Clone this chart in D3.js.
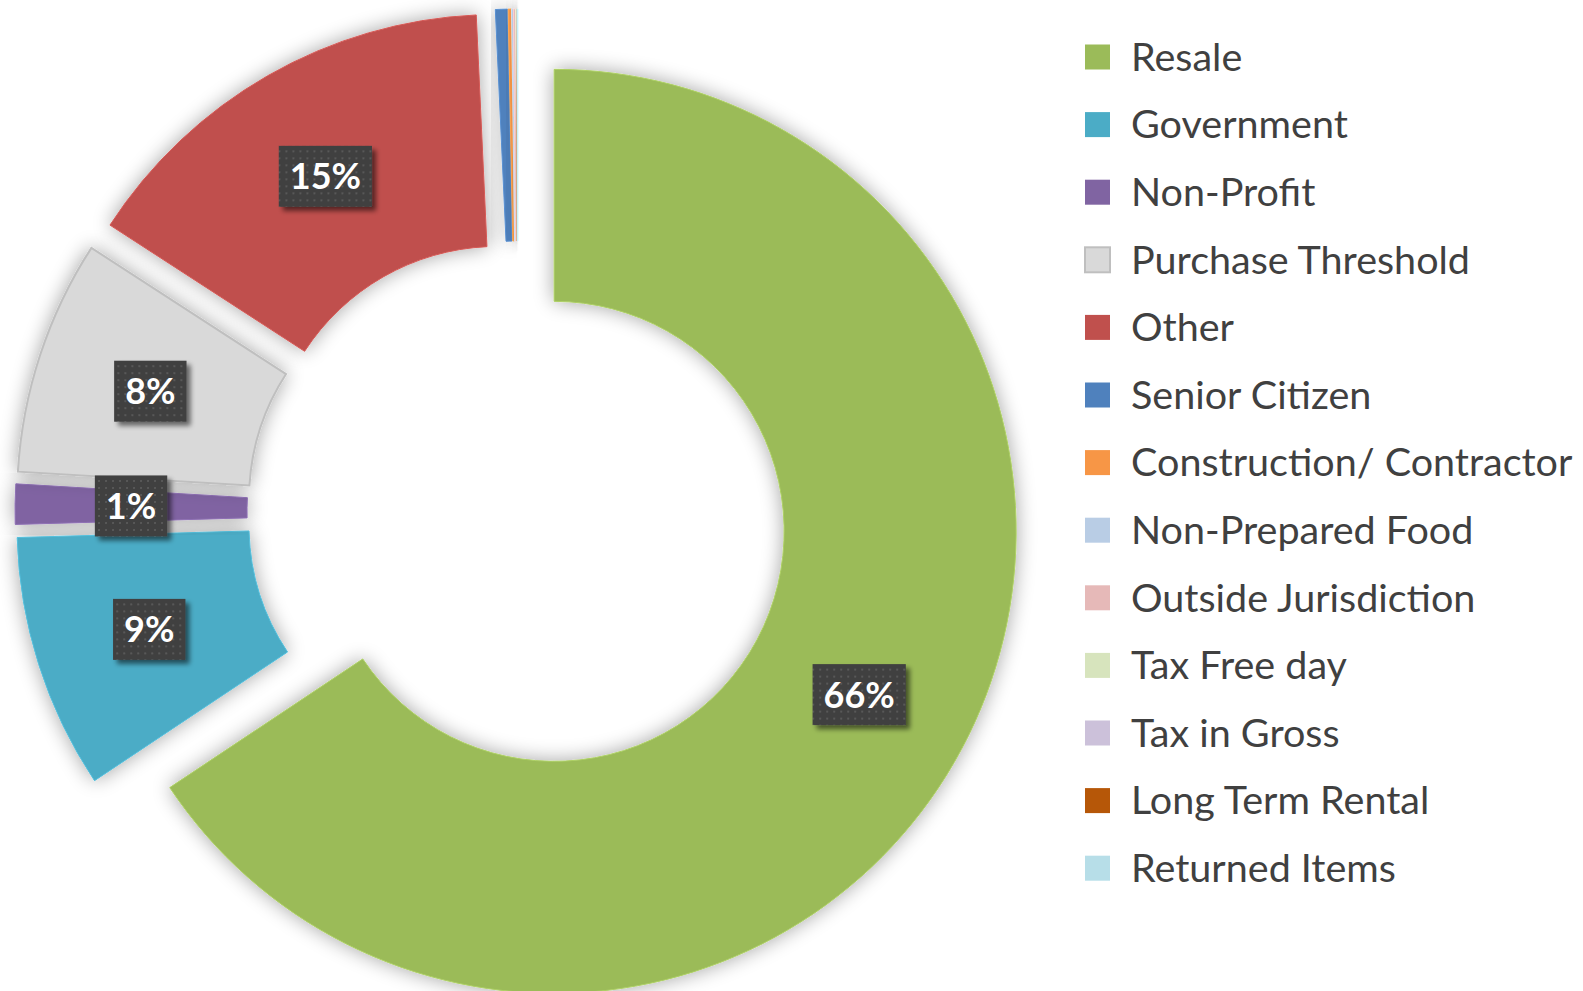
<!DOCTYPE html>
<html>
<head>
<meta charset="utf-8">
<script src="https://cdn.jsdelivr.net/npm/d3@7"></script>
<style>
  body { margin: 0; background: #fff; }
</style>
</head>
<body>
<svg id="chart"></svg>
<script>
// data (shares in %)
var categories = ["Resale", "Government", "Non-Profit", "Purchase Threshold", "Other",
                  "Senior Citizen", "Construction/ Contractor", "Non-Prepared Food",
                  "Outside Jurisdiction", "Tax Free day", "Tax in Gross",
                  "Long Term Rental", "Returned Items"];
var values = [65.6, 8.9, 1.4, 8.2, 15.1, 0.42, 0.11, 0.06, 0.08, 0.01, 0.01, 0.005, 0.04];
var colors = ["#9bbb59", "#4bacc6", "#8064a2", "#d9d9d9", "#c0504d", "#4f81bd", "#f79646",
              "#b9cde5", "#e6b9b8", "#d7e4bd", "#ccc1da", "#b65708", "#b7dee8"];

var width = 1583, height = 991;
var cx = 518, cy = 512,
    outerR = 462, innerR = 230,
    explode = 41;

var svg = d3.select("#chart")
    .attr("width", width)
    .attr("height", height);

var defs = svg.append("defs");

// soft glow around each slice
var glow = defs.append("filter").attr("id", "glow")
    .attr("x", "-25%").attr("y", "-25%").attr("width", "150%").attr("height", "150%");
glow.append("feGaussianBlur").attr("in", "SourceAlpha").attr("stdDeviation", 10).attr("result", "b");
glow.append("feComponentTransfer").attr("in", "b").attr("result", "s")
    .append("feFuncA").attr("type", "linear").attr("slope", 0.36);
var gm = glow.append("feMerge");
gm.append("feMergeNode").attr("in", "s");
gm.append("feMergeNode").attr("in", "SourceGraphic");

// shadow under the label boxes
var shadow = defs.append("filter").attr("id", "boxShadow")
    .attr("x", "-30%").attr("y", "-30%").attr("width", "160%").attr("height", "160%");
shadow.append("feGaussianBlur").attr("in", "SourceAlpha").attr("stdDeviation", 2.5).attr("result", "b");
shadow.append("feOffset").attr("in", "b").attr("dx", 4).attr("dy", 4).attr("result", "o");
shadow.append("feComponentTransfer").attr("in", "o").attr("result", "s")
    .append("feFuncA").attr("type", "linear").attr("slope", 0.55);
var sm = shadow.append("feMerge");
sm.append("feMergeNode").attr("in", "s");
sm.append("feMergeNode").attr("in", "SourceGraphic");

// dotted fill of the label boxes
var pat = defs.append("pattern").attr("id", "dots")
    .attr("patternUnits", "userSpaceOnUse").attr("width", 7).attr("height", 7);
pat.append("rect").attr("width", 7).attr("height", 7).attr("fill", "#404040");
pat.append("rect").attr("x", 2).attr("y", 2).attr("width", 2).attr("height", 2).attr("fill", "#585858");

var total = d3.sum(values);
var data = categories.map(function(c, i) { return {name: c, value: values[i], color: colors[i]}; });

var pie = d3.pie().sort(null).value(function(d) { return d.value; });
var arcs = pie(data);

var arc = d3.arc().innerRadius(innerR).outerRadius(outerR);
var midArc = d3.arc().innerRadius((innerR + outerR) / 2).outerRadius((innerR + outerR) / 2);

function offset(d) {
    var a = (d.startAngle + d.endAngle) / 2;
    return [explode * Math.sin(a), -explode * Math.cos(a)];
}

var g = svg.append("g").attr("transform", "translate(" + cx + "," + cy + ")");

g.selectAll("path.slice")
    .data(arcs)
    .enter().append("path")
        .attr("class", "slice")
        .attr("d", arc)
        .attr("transform", function(d) { var o = offset(d); return "translate(" + o[0] + "," + o[1] + ")"; })
        .attr("fill", function(d) { return d.data.color; })
        .attr("stroke", function(d) { return d.data.name == "Purchase Threshold" ? "#bfbfbf" : d3.color(d.data.color).brighter(0.3); })
        .attr("stroke-width", function(d) { return d.data.name == "Purchase Threshold" ? 2 : 1; })
        .attr("filter", "url(#glow)");

// percentage labels on the bigger slices
var fmt = d3.format(".0%");
var labels = g.selectAll("g.label")
    .data(arcs.filter(function(d) { return d.data.value >= 1; }))
    .enter().append("g")
        .attr("class", "label")
        .attr("transform", function(d) {
            var c = midArc.centroid(d), o = offset(d);
            return "translate(" + (c[0] + o[0]) + "," + (c[1] + o[1]) + ")";
        });

labels.append("rect").attr("class", "box");
labels.append("text")
    .attr("text-anchor", "middle")
    .attr("dy", "0.36em")
    .attr("font-family", "Lato, 'Open Sans', sans-serif")
    .attr("font-weight", "bold")
    .attr("font-size", 36)
    .attr("fill", "#fff")
    .text(function(d) { return fmt(d.data.value / total); });

labels.each(function() {
    var t = d3.select(this).select("text").node().getBBox();
    var w = t.width + 22, h = 61;
    d3.select(this).select("rect")
        .attr("x", -w / 2).attr("y", -h / 2)
        .attr("width", w).attr("height", h)
        .attr("fill", "url(#dots)")
        .attr("filter", "url(#boxShadow)");
});

// legend
var legend = svg.append("g").attr("transform", "translate(1085,57)");
var rowH = 67.6;
var item = legend.selectAll("g")
    .data(data)
    .enter().append("g")
        .attr("transform", function(d, i) { return "translate(0," + (i * rowH) + ")"; });

item.append("rect")
    .attr("x", 0).attr("y", -12.5)
    .attr("width", 25).attr("height", 25)
    .attr("fill", function(d) { return d.color; })
    .attr("stroke", function(d) { return d.name == "Purchase Threshold" ? "#bfbfbf" : "none"; })
    .attr("stroke-width", 2);

item.append("text")
    .attr("x", 46)
    .attr("dy", "0.35em")
    .attr("font-family", "Lato, 'Open Sans', sans-serif")
    .attr("font-size", 39.5)
    .attr("fill", "#404040")
    .text(function(d) { return d.name; });
</script>
</body>
</html>
